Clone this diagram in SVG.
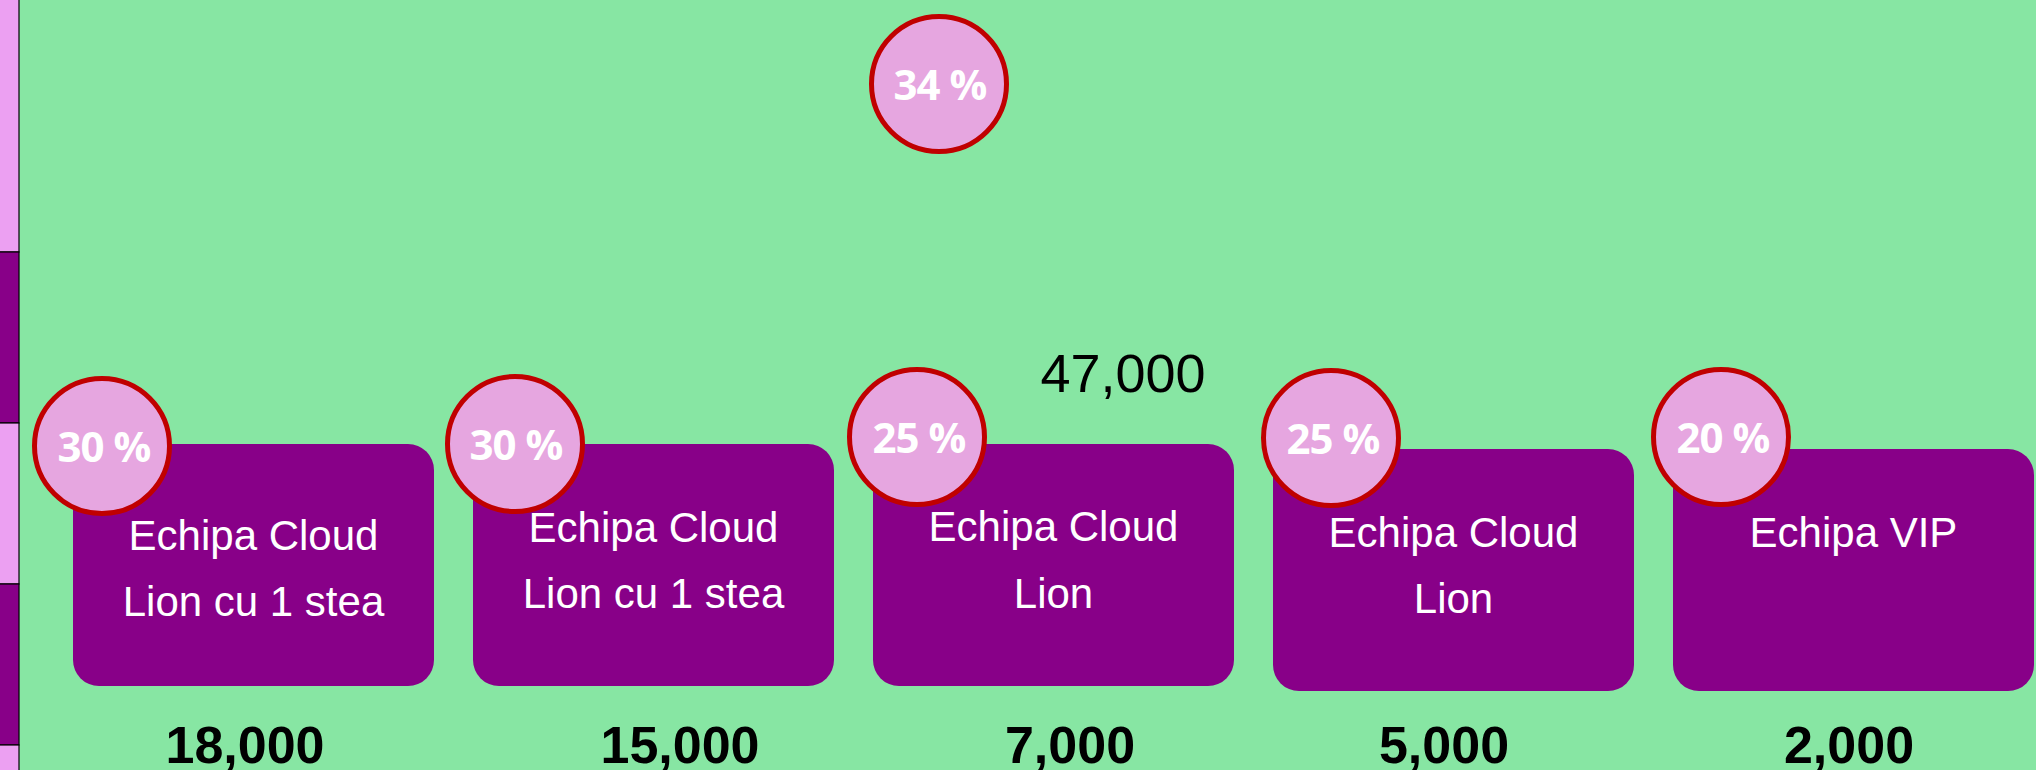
<svg xmlns="http://www.w3.org/2000/svg" width="2036" height="770" viewBox="0 0 2036 770">
<style>
.box{fill:#880088;}
.badge{fill:#e6a6e0;stroke:#c00000;stroke-width:5;}
.pct{font-family:"Open Sans","Liberation Sans",sans-serif;font-weight:bold;font-size:42px;letter-spacing:-1px;fill:#ffffff;text-anchor:middle;}
.lbl{font-family:"Liberation Sans",Arial,sans-serif;font-size:42px;fill:#ffffff;text-anchor:middle;}
.val{font-family:"Liberation Sans",Arial,sans-serif;font-weight:bold;font-size:52px;fill:#000000;text-anchor:middle;}
.tot{font-family:"Liberation Sans",Arial,sans-serif;font-size:54px;fill:#000000;text-anchor:middle;}
.sp{fill:#eca0f2;stroke:#000;stroke-width:1.2;}
.sd{fill:#880088;stroke:#000;stroke-width:1.2;}
</style>
<rect x="0" y="0" width="2036" height="770" fill="#87e6a3"/>
<g id="strip">
<rect class="sp" x="-2" y="-2" width="21" height="254"/>
<rect class="sd" x="-2" y="252" width="21" height="171"/>
<rect class="sp" x="-2" y="423" width="21" height="161"/>
<rect class="sd" x="-2" y="584" width="21" height="161"/>
<rect class="sp" x="-2" y="745" width="21" height="30"/>
</g>
<g id="connectors"></g>
<g id="total">
<circle class="badge" cx="939" cy="84" r="67.5"/>
<text class="pct" x="940" y="100">34 %</text>
<text class="tot" x="1123" y="392">47,000</text>
</g>
<g id="node1">
<rect class="box" x="73" y="444" width="361" height="242" rx="26"/>
<text class="lbl" x="253.5" y="550">Echipa Cloud</text>
<text class="lbl" x="253.5" y="616">Lion cu 1 stea</text>
<circle class="badge" cx="102" cy="446" r="67.5"/>
<text class="pct" x="104" y="462">30 %</text>
<text class="val" x="245" y="763">18,000</text>
</g>
<g id="node2">
<rect class="box" x="473" y="444" width="361" height="242" rx="26"/>
<text class="lbl" x="653.5" y="542">Echipa Cloud</text>
<text class="lbl" x="653.5" y="608">Lion cu 1 stea</text>
<circle class="badge" cx="515" cy="444" r="67.5"/>
<text class="pct" x="516" y="460">30 %</text>
<text class="val" x="680" y="763">15,000</text>
</g>
<g id="node3">
<rect class="box" x="873" y="444" width="361" height="242" rx="26"/>
<text class="lbl" x="1053.5" y="541">Echipa Cloud</text>
<text class="lbl" x="1053.5" y="608">Lion</text>
<circle class="badge" cx="917" cy="437" r="67.5"/>
<text class="pct" x="919" y="453">25 %</text>
<text class="val" x="1070" y="763">7,000</text>
</g>
<g id="node4">
<rect class="box" x="1273" y="449" width="361" height="242" rx="26"/>
<text class="lbl" x="1453.5" y="547">Echipa Cloud</text>
<text class="lbl" x="1453.5" y="613">Lion</text>
<circle class="badge" cx="1331" cy="438" r="67.5"/>
<text class="pct" x="1333" y="454">25 %</text>
<text class="val" x="1444" y="763">5,000</text>
</g>
<g id="node5">
<rect class="box" x="1673" y="449" width="361" height="242" rx="26"/>
<text class="lbl" x="1853.5" y="547">Echipa VIP</text>
<circle class="badge" cx="1721" cy="437" r="67.5"/>
<text class="pct" x="1723" y="453">20 %</text>
<text class="val" x="1849" y="763">2,000</text>
</g>
</svg>
